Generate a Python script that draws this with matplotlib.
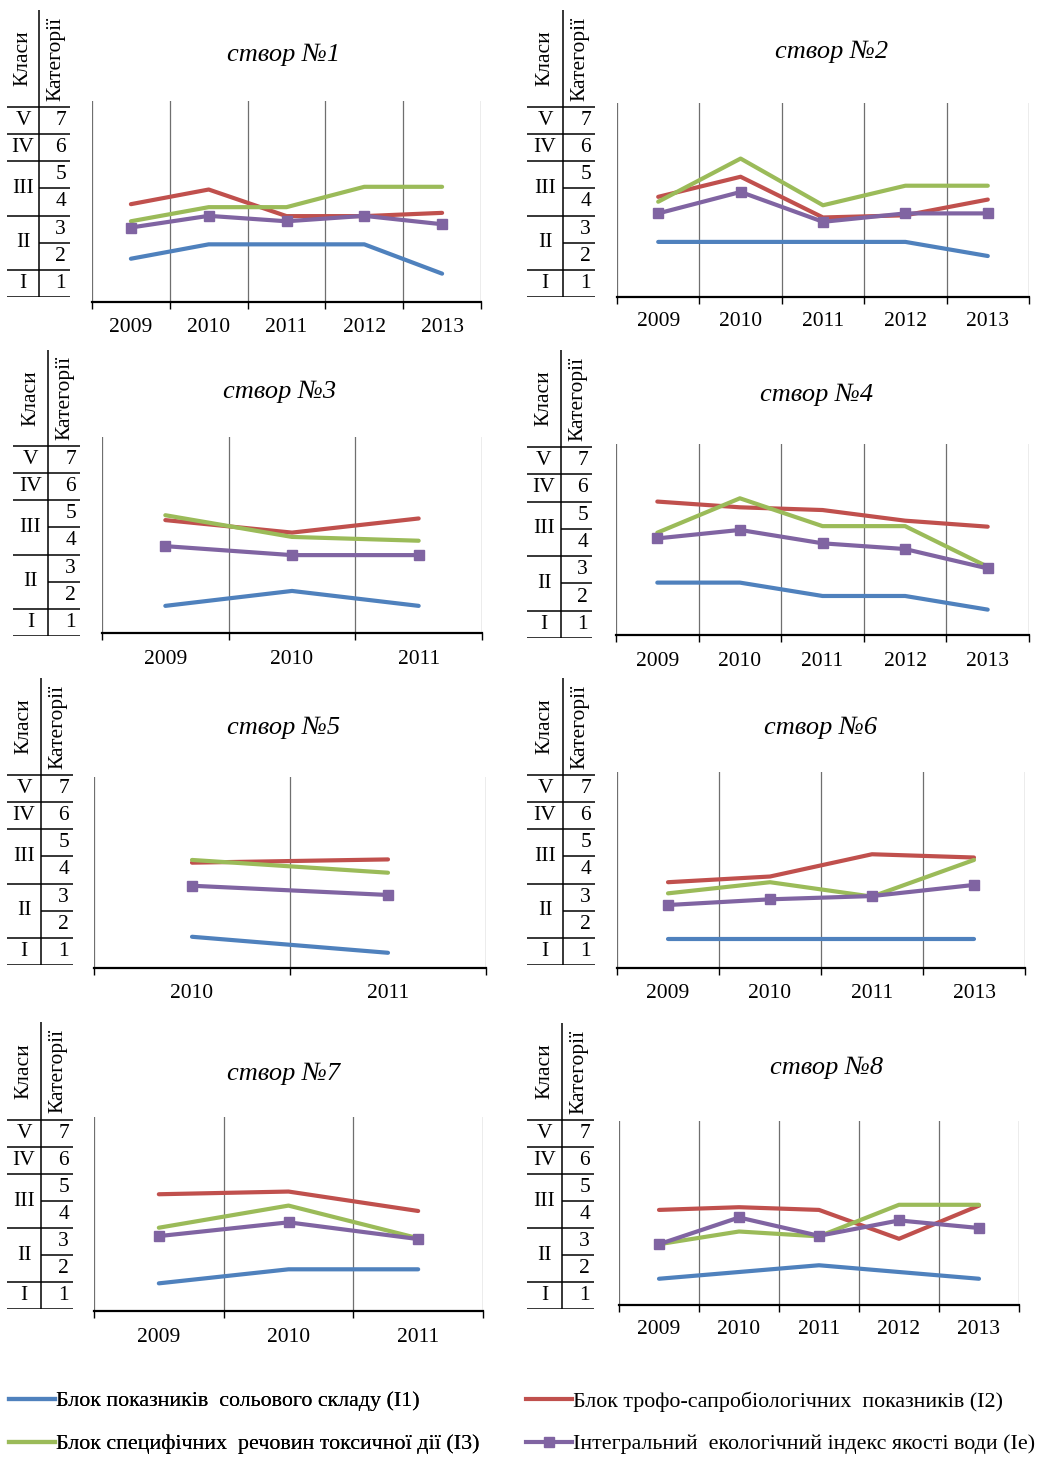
import matplotlib
matplotlib.use('Agg')
import matplotlib.pyplot as plt
from matplotlib.lines import Line2D
import numpy as np

plt.rcParams['font.family'] = ['Liberation Serif', 'DejaVu Serif']

# ---------------- data ----------------
classes = ['I', 'II', 'III', 'IV', 'V']
class_categories = [[1], [2, 3], [4, 5], [6], [7]]
categories = [1, 2, 3, 4, 5, 6, 7]

series_names = ['Блок показників  сольового складу (I1)',
                'Блок трофо-сапробіологічних  показників (I2)',
                'Блок специфічних  речовин токсичної дії (I3)',
                'Інтегральний  екологічний індекс якості води (Ie)']
series_colors = ['#4F81BD', '#C0504D', '#9BBB59', '#8064A2']

titles = ['створ №1', 'створ №2', 'створ №3', 'створ №4',
          'створ №5', 'створ №6', 'створ №7', 'створ №8']

years_1 = ['2009', '2010', '2011', '2012', '2013']
i1_1 = [1.91, 2.44, 2.44, 2.44, 1.36]
i2_1 = [3.92, 4.46, 3.48, 3.48, 3.60]
i3_1 = [3.29, 3.81, 3.81, 4.56, 4.56]
ie_1 = [3.06, 3.49, 3.29, 3.49, 3.18]

years_2 = ['2009', '2010', '2011', '2012', '2013']
i1_2 = [2.53, 2.53, 2.53, 2.53, 2.01]
i2_2 = [4.19, 4.93, 3.43, 3.51, 4.09]
i3_2 = [4.01, 5.60, 3.88, 4.60, 4.60]
ie_2 = [3.58, 4.37, 3.27, 3.58, 3.58]

years_3 = ['2009', '2010', '2011']
i1_3 = [1.61, 2.16, 1.61]
i2_3 = [4.77, 4.31, 4.83]
i3_3 = [4.95, 4.15, 4.01]
ie_3 = [3.81, 3.48, 3.48]

years_4 = ['2009', '2010', '2011', '2012', '2013']
i1_4 = [2.53, 2.53, 2.04, 2.04, 1.54]
i2_4 = [5.50, 5.29, 5.19, 4.80, 4.58]
i3_4 = [4.36, 5.62, 4.60, 4.60, 3.11]
ie_4 = [4.15, 4.46, 3.97, 3.76, 3.05]

years_5 = ['2010', '2011']
i1_5 = [1.54, 0.95]
i2_5 = [4.27, 4.39]
i3_5 = [4.37, 3.90]
ie_5 = [3.42, 3.08]

years_6 = ['2009', '2010', '2011', '2013']
i1_6 = [1.46, 1.46, 1.46, 1.46]
i2_6 = [3.55, 3.76, 4.58, 4.46]
i3_6 = [3.14, 3.55, 3.02, 4.37]
ie_6 = [2.71, 2.92, 3.04, 3.45]

years_7 = ['2009', '2010', '2011']
i1_7 = [1.45, 1.97, 1.97]
i2_7 = [4.75, 4.85, 4.13]
i3_7 = [3.51, 4.33, 3.12]
ie_7 = [3.20, 3.71, 3.09]

years_8 = ['2009', '2010', '2011', '2012', '2013']
i1_8 = [1.62, 1.87, 2.12, 1.87, 1.62]
i2_8 = [4.17, 4.27, 4.17, 3.10, 4.33]
i3_8 = [2.90, 3.37, 3.19, 4.36, 4.36]
ie_8 = [2.90, 3.89, 3.21, 3.78, 3.50]

panel_years = [years_1, years_2, years_3, years_4, years_5, years_6, years_7, years_8]
panel_series = [[i1_1, i2_1, i3_1, ie_1], [i1_2, i2_2, i3_2, ie_2],
                [i1_3, i2_3, i3_3, ie_3], [i1_4, i2_4, i3_4, ie_4],
                [i1_5, i2_5, i3_5, ie_5], [i1_6, i2_6, i3_6, ie_6],
                [i1_7, i2_7, i3_7, ie_7], [i1_8, i2_8, i3_8, ie_8]]

# ---------------- layout (pixels) ----------------
W, H = 1037, 1459
layout = [
    dict(tl=7, td=39, tr=70, ht=10, tt=107, tb=297, pl=92, pr=481, pt=101, pa=302, tx=284, ty=55, ky=327),
    dict(tl=527, td=563, tr=595, ht=10, tt=107, tb=297, pl=617, pr=1029, pt=103, pa=297, tx=832, ty=52, ky=322),
    dict(tl=13, td=48, tr=80, ht=350, tt=446, tb=636, pl=102, pr=482, pt=437, pa=633, tx=280, ty=392, ky=659),
    dict(tl=527, td=561, tr=592, ht=350, tt=447, tb=638, pl=616, pr=1029, pt=444, pa=635, tx=817, ty=395, ky=662),
    dict(tl=7, td=41, tr=73, ht=678, tt=775, tb=965, pl=94, pr=486, pt=777, pa=968, tx=284, ty=728, ky=994),
    dict(tl=527, td=563, tr=595, ht=678, tt=775, tb=965, pl=617, pr=1025, pt=772, pa=968, tx=821, ty=728, ky=993),
    dict(tl=7, td=41, tr=73, ht=1022, tt=1120, tb=1309, pl=94, pr=483, pt=1117, pa=1311, tx=284, ty=1074, ky=1337),
    dict(tl=527, td=562, tr=594, ht=1023, tt=1120, tb=1309, pl=619, pr=1019, pt=1121, pa=1305, tx=827, ty=1068, ky=1330),
]


def rect(x0, y0, x1, y1):
    return [x0 / W, 1 - y1 / H, (x1 - x0) / W, (y1 - y0) / H]


fig = plt.figure(figsize=(W / 100, H / 100), dpi=100)
px2pt = 72 / 100
FS = 15.5

ncat = len(categories)
for k in range(8):
    L = layout[k]
    rh = (L['tb'] - L['tt']) / ncat
    lo_val = categories[0] - 0.5
    hi_val = categories[-1] + 0.5

    # ---- table of classes / categories ----
    axt = fig.add_axes(rect(L['tl'], L['ht'], L['tr'], L['tb']))
    axt.set_xlim(L['tl'], L['tr'])
    ytop = lo_val + (L['tb'] - L['ht']) / rh
    axt.set_ylim(lo_val, ytop)
    axt.axis('off')
    full_lines = [c[0] - 0.5 for c in class_categories] + [hi_val]
    half_lines = [c - 0.5 for cl in class_categories for c in cl[1:]]
    axt.hlines(full_lines, L['tl'], L['tr'], color='black', lw=1.1)
    axt.hlines(half_lines, L['td'], L['tr'], color='black', lw=1.1)
    axt.vlines([L['td']], lo_val, ytop, color='black', lw=1.1)
    for cl, cats in zip(classes, class_categories):
        axt.text((L['tl'] + L['td']) / 2, np.mean(cats), cl, ha='center', va='center', fontsize=FS)
    for c in categories:
        axt.text(L['tr'] - 4, c, str(c), ha='right', va='center', fontsize=FS)
    hy = (hi_val + ytop) / 2
    axt.text((L['tl'] + L['td']) / 2, hy, 'Класи', rotation=90, ha='center', va='center', fontsize=FS)
    axt.text((L['td'] + L['tr']) / 2 + 1, hy, 'Категорії', rotation=90, ha='center', va='center', fontsize=FS)

    # ---- line chart ----
    ax = fig.add_axes(rect(L['pl'], L['pt'], L['pr'], L['pa']))
    yrs = panel_years[k]
    n = len(yrs)
    x = np.arange(n)
    ylo = lo_val + (L['tb'] - L['pa']) / rh
    yhi = lo_val + (L['tb'] - L['pt']) / rh
    for j, (vals, col) in enumerate(zip(panel_series[k], series_colors)):
        if j == 3:
            ax.plot(x, vals, color=col, lw=3, marker='s', markersize=6.5, zorder=5, solid_capstyle='round')
        else:
            ax.plot(x, vals, color=col, lw=3, zorder=3 + j * 0.1, solid_capstyle='round')
    ax.set_xlim(-0.5, n - 0.5)
    ax.set_ylim(ylo, yhi)
    ax.set_xticks(np.arange(n + 1) - 0.5)
    ax.set_xticklabels([])
    ax.set_xticks(x, minor=True)
    ax.set_xticklabels(yrs, minor=True, fontsize=FS)
    ax.tick_params(axis='x', which='major', direction='out', length=5, width=1, color='black')
    ax.tick_params(axis='x', which='minor', length=0, pad=(L['ky'] - L['pa']) * px2pt)
    for t in ax.xaxis.get_minor_ticks():
        t.label1.set_va('center')
    ax.tick_params(axis='y', left=False, labelleft=False)
    ax.grid(axis='x', which='major', color='#6f6f6f', lw=0.9)
    ax.set_axisbelow(True)
    for s in ['top', 'left', 'right']:
        ax.spines[s].set_visible(False)
    ax.spines['bottom'].set_linewidth(1.6)
    ax.spines['bottom'].set_color('black')
    ax.patch.set_alpha(0)

    fig.text(L['tx'] / W, 1 - L['ty'] / H, titles[k], ha='center', va='center',
             fontsize=19, style='italic')

# ---------------- legend ----------------
handles = []
for j, col in enumerate(series_colors):
    if j == 3:
        handles.append(Line2D([], [], color=col, lw=3, marker='s', markersize=6.5))
    else:
        handles.append(Line2D([], [], color=col, lw=3))

LFS = 15.8
leg_kw = dict(loc='upper left', frameon=False, fontsize=LFS, handlelength=2.1,
              handletextpad=0.05, borderpad=0, borderaxespad=0, labelspacing=1.03)
leg1 = fig.legend([handles[0], handles[2]], [series_names[0], series_names[2]],
                  bbox_to_anchor=(9 / W, 1 - 1391 / H), **leg_kw)
fig.add_artist(leg1)
leg2 = fig.legend([handles[1], handles[3]], [series_names[1], series_names[3]],
                  bbox_to_anchor=(526 / W, 1 - 1391 / H), **leg_kw)

fig.savefig('out.png', dpi=100)
